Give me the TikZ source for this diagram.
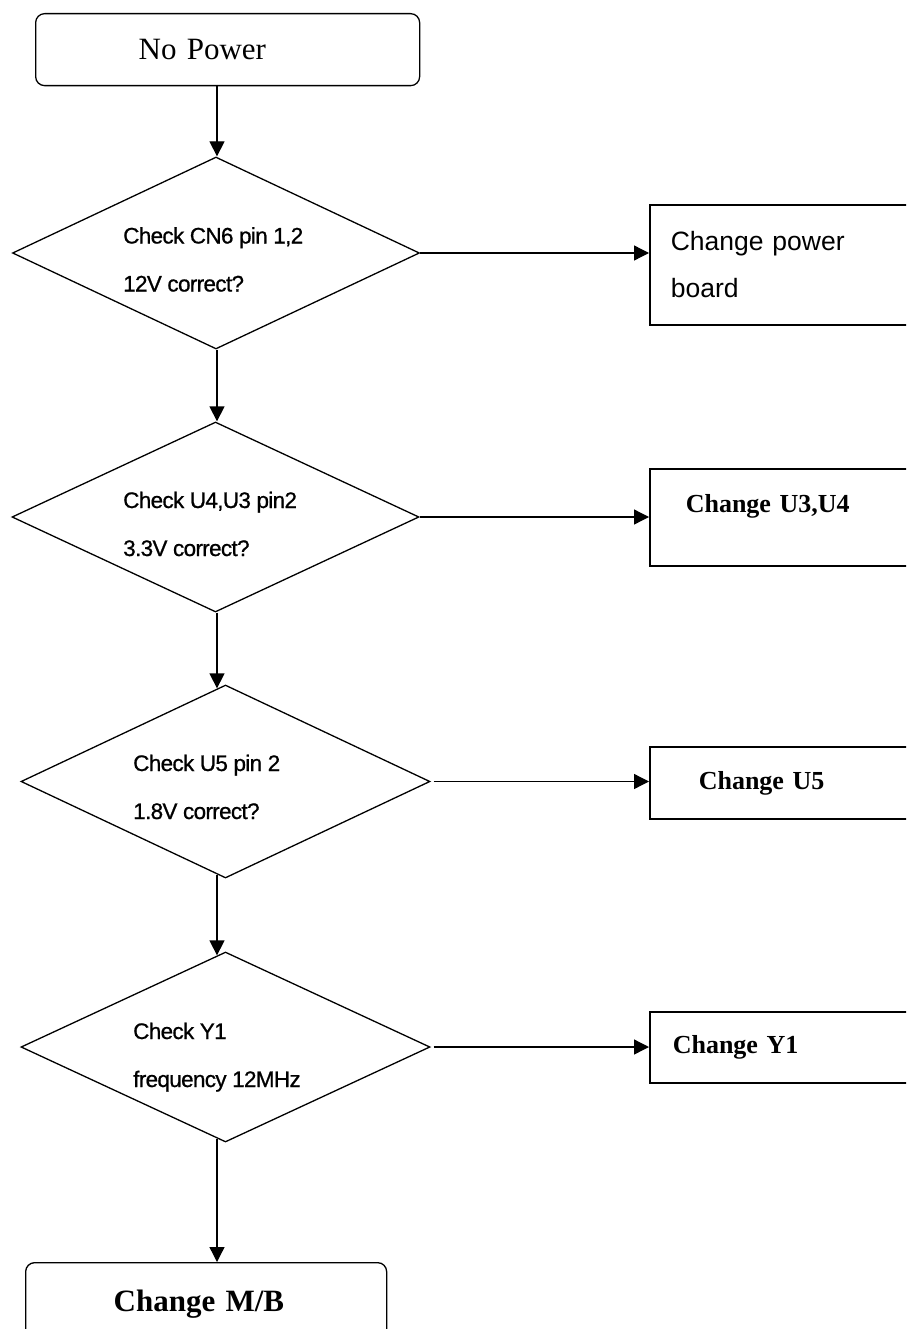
\documentclass[tikz,border=0pt]{standalone}
\usepackage{fontspec}
\setmainfont{Liberation Serif}
\setsansfont{Liberation Sans}
\newfontfamily\checkfont{Liberation Sans}[FakeBold=0.8, LetterSpace=-3]
\usepackage{tikz}
\usetikzlibrary{
  arrows.meta,
  shapes.geometric
}
\definecolor{ink}{HTML}{000000}
\tikzset{
  >={Triangle[length=15pt,width=15pt]},
  every node/.style={text=ink},
  termbox/.style={
    draw=ink,
    rectangle,
    rounded corners=9pt,
    line width=1.3pt,
    align=left,
    anchor=north west,
    inner ysep=0pt
  },
  checkdiamond/.style={
    draw=ink,
    diamond,
    line width=1.3pt,
    minimum width=407pt,
    minimum height=192pt,
    inner sep=0pt
  },
  checktext/.style={
    font=\checkfont\fontsize{22.5}{48}\selectfont,
    align=left,
    inner sep=0pt,
    anchor=north west
  },
  fixbox/.style={
    draw=ink,
    rectangle,
    line width=1.6pt,
    align=left,
    anchor=west,
    inner ysep=0pt,
    text width=250pt
  },
  fixserif/.style={font=\rmfamily\bfseries\fontsize{26}{30}\selectfont},
  flow/.style={->, line width=1.3pt, draw=ink},
}

\begin{document}
\begin{tikzpicture}[x=1pt, y=-1pt]

  \useasboundingbox (0,0) rectangle (906,1329);
  \clip (0,0) rectangle (906,1329);
  \fill[white] (0,0) rectangle (906,1329);

  % =====================================================================
  % MAIN COLUMN
  % =====================================================================
  \coordinate (spine) at (217,0);

  \node[termbox, text width=178pt, inner xsep=103pt, minimum height=72pt,
        font=\rmfamily\fontsize{31}{36}\selectfont]
    (start) at (35,13) {No Power};

  \node[checkdiamond] (c1) at (216,253) {};
  \node[checktext] (c1t) at (123,227) {Check CN6 pin 1,2\\12V correct?};

  \node[checkdiamond, minimum height=190pt] (c2) at (215.5,517) {};
  \node[checktext] (c2t) at (123,491.5) {Check U4,U3 pin2\\3.3V correct?};

  \node[checkdiamond, minimum width=409pt, minimum height=193pt]
    (c3) at (225.5,781.5) {};
  \node[checktext] (c3t) at (133,754.5) {Check U5 pin 2\\1.8V correct?};

  \node[checkdiamond, minimum width=409pt, minimum height=190pt]
    (c4) at (225.5,1047) {};
  \node[checktext] (c4t) at (133,1022.5) {Check Y1\\frequency 12MHz};

  \node[termbox, text width=185pt, inner xsep=88pt, minimum height=82pt,
        font=\rmfamily\bfseries\fontsize{31}{36}\selectfont]
    (mb) at (25,1262) {Change M/B};

  % =====================================================================
  % FIX BOXES (cut by the right edge)
  % =====================================================================
  \node[fixbox, inner xsep=21pt, minimum height=120pt,
        font=\sffamily\fontsize{26.5}{47}\selectfont]
    (pb) at (649,265) {Change power\\board};
  \node[fixbox, fixserif, inner xsep=36pt, minimum height=97pt, text depth=28pt]
    (u34) at (649,517.5) {Change U3,U4};
  \node[fixbox, fixserif, inner xsep=49pt, minimum height=72pt]
    (u5) at (649,783) {Change U5};
  \node[fixbox, fixserif, inner xsep=23pt, minimum height=71pt]
    (y1) at (649,1047.5) {Change Y1};

  % Downward flow
  \draw[flow] (start.south -| spine) -- (spine |- c1.north);
  \draw[flow] (spine |- c1.south) -- (spine |- c2.north);
  \draw[flow, shorten >=-4pt] (spine |- c2.south) -- (spine |- c3.north);
  \draw[flow, shorten <=-4pt, shorten >=-4pt] (spine |- c3.south) -- (spine |- c4.north);
  \draw[flow, shorten <=-4pt] (spine |- c4.south) -- (spine |- mb.north);

  % Sideways to the fixes
  \draw[flow] (c1.east) -- (c1.east -| pb.west);
  \draw[flow] (c2.east) -- (c2.east -| u34.west);
  \draw[flow, shorten <=3pt] (c3.east) -- (c3.east -| u5.west);
  \draw[flow, shorten <=3pt] (c4.east) -- (c4.east -| y1.west);

\end{tikzpicture}
\end{document}
